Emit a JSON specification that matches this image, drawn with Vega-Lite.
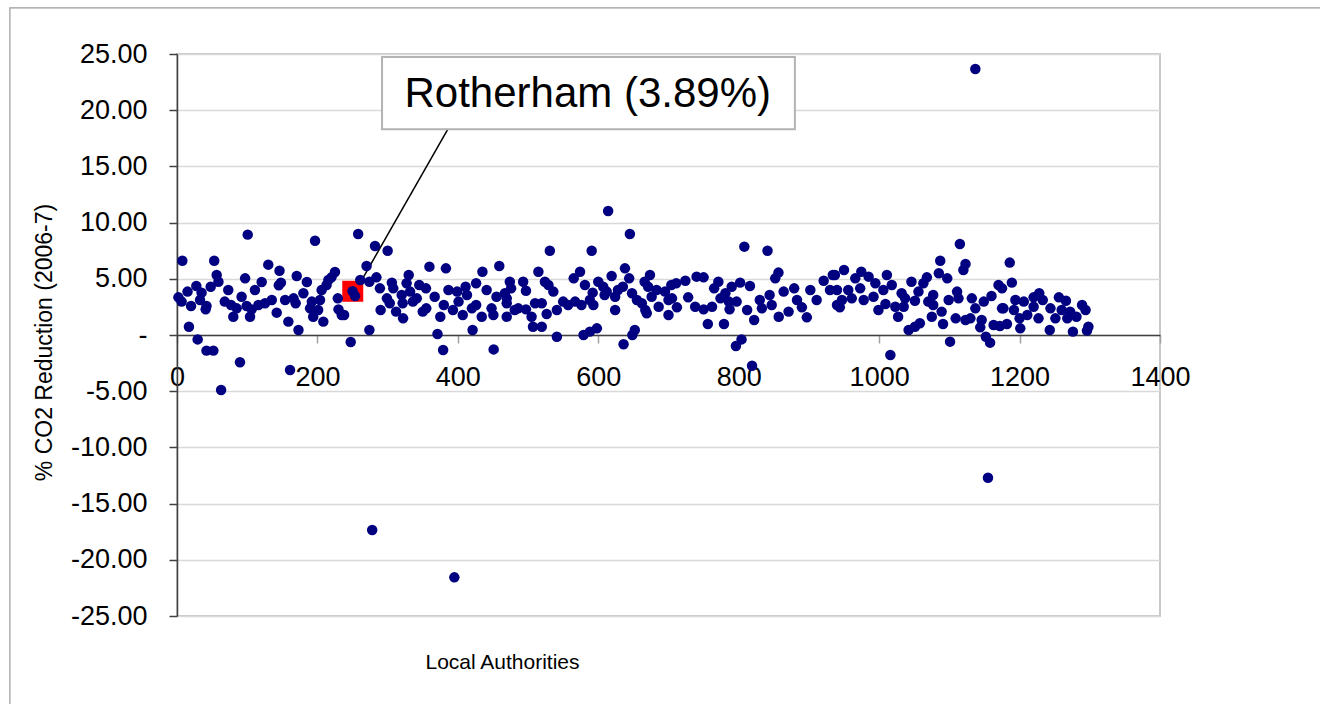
{
  "$schema": "https://vega.github.io/schema/vega-lite/v6.json",
  "autosize": {"type": "none"},
  "padding": {"left": 177, "top": 54, "right": 160, "bottom": 88},
  "width": 983,
  "height": 562,
  "background": "white",
  "config": {
    "view": {"stroke": "#c8c8c8", "strokeWidth": 2},
    "font": "Liberation Sans"
  },
  "data": {"values": [
    {"i":100.7,"v":8.93},{"i":196.6,"v":8.39},{"i":7.6,"v":6.61},{"i":53,"v":6.61},{"i":130,"v":6.26},{"i":146,"v":5.72},{"i":170.5,"v":5.25},{"i":225,"v":5.6},{"i":220,"v":5.13},{"i":56.5,"v":5.34},{"i":59,"v":4.74},{"i":97,"v":5.04},{"i":120.6,"v":4.72},{"i":185,"v":4.72},{"i":148,"v":4.66},{"i":145,"v":4.42},{"i":27.5,"v":4.36},{"i":48,"v":4.3},{"i":111,"v":4.0},{"i":73,"v":4.0},{"i":215.6,"v":4.89},{"i":213,"v":4.45},{"i":206,"v":4.0},{"i":15,"v":3.86},{"i":35,"v":3.77},{"i":2,"v":3.35},{"i":6.6,"v":2.97},{"i":20,"v":2.58},{"i":32.8,"v":3.11},{"i":42,"v":2.58},{"i":40.8,"v":2.28},{"i":68,"v":2.97},{"i":77,"v":2.67},{"i":85,"v":2.37},{"i":92,"v":3.41},{"i":99.2,"v":2.58},{"i":106.4,"v":2.28},{"i":104,"v":1.63},{"i":80.2,"v":1.63},{"i":116,"v":2.67},{"i":125.4,"v":2.82},{"i":135,"v":3.11},{"i":142,"v":1.99},{"i":154,"v":3.11},{"i":166,"v":3.26},{"i":169,"v":2.82},{"i":180,"v":3.71},{"i":192,"v":2.97},{"i":189.5,"v":2.37},{"i":194,"v":1.63},{"i":203.7,"v":3.11},{"i":201,"v":2.22},{"i":208.4,"v":1.19},{"i":158.6,"v":1.19},{"i":173,"v":0.44},{"i":229,"v":3.26},{"i":230,"v":2.28},{"i":234.6,"v":1.78},{"i":17,"v":0.74},{"i":29.4,"v":-0.39},{"i":42,"v":-1.39},{"i":51.8,"v":-1.39},
    {"i":258,"v":8.99},{"i":282,"v":7.92},{"i":300,"v":7.5},{"i":270,"v":6.14},{"i":359.5,"v":6.08},{"i":383,"v":5.93},{"i":459,"v":6.14},{"i":435,"v":5.63},{"i":330,"v":5.34},{"i":284,"v":5.13},{"i":261,"v":4.89},{"i":274,"v":4.74},{"i":306,"v":4.66},{"i":308,"v":4.15},{"i":250,"v":3.89},{"i":253.6,"v":3.47},{"i":289,"v":4.15},{"i":327,"v":4.6},{"i":345,"v":4.45},{"i":354.6,"v":4.15},{"i":332,"v":3.86},{"i":320,"v":3.56},{"i":299,"v":3.26},{"i":341.5,"v":3.26},{"i":367,"v":3.41},{"i":386.6,"v":4.0},{"i":399,"v":3.86},{"i":411,"v":4.3},{"i":413,"v":3.56},{"i":426,"v":4.6},{"i":441,"v":4.0},{"i":455,"v":3.41},{"i":467,"v":3.71},{"i":469.6,"v":2.82},{"i":303,"v":2.82},{"i":321.4,"v":2.82},{"i":336,"v":2.97},{"i":355,"v":2.37},{"i":350,"v":2.08},{"i":380,"v":2.67},{"i":375,"v":1.63},{"i":393,"v":2.22},{"i":401,"v":2.97},{"i":407,"v":1.78},{"i":420,"v":2.37},{"i":426,"v":2.67},{"i":434,"v":1.63},{"i":448,"v":2.37},{"i":450.6,"v":1.78},{"i":312,"v":2.08},{"i":322,"v":1.48},{"i":290,"v":2.22},{"i":238,"v":1.78},{"i":274,"v":0.44},{"i":371,"v":0.09},{"i":421,"v":0.44},{"i":247.4,"v":-0.62},{"i":379,"v":-1.33},{"i":451,"v":-1.28},{"i":469.6,"v":1.63},
    {"i":645,"v":8.99},{"i":531,"v":7.5},{"i":590.6,"v":7.5},{"i":514.7,"v":5.63},{"i":574,"v":5.63},{"i":565,"v":5.04},{"i":638,"v":5.93},{"i":644,"v":5.04},{"i":619,"v":5.25},{"i":673.6,"v":5.34},{"i":474,"v":4.74},{"i":493,"v":4.74},{"i":524,"v":4.74},{"i":529,"v":4.45},{"i":497,"v":3.94},{"i":475.8,"v":4.15},{"i":581,"v":4.45},{"i":600,"v":4.74},{"i":607,"v":4.3},{"i":612,"v":3.86},{"i":628,"v":4.0},{"i":635,"v":4.3},{"i":666,"v":4.74},{"i":671,"v":4.3},{"i":683,"v":4.0},{"i":695,"v":3.86},{"i":704,"v":4.45},{"i":536,"v":3.86},{"i":469.6,"v":3.26},{"i":592,"v":3.77},{"i":588,"v":3.11},{"i":593,"v":2.67},{"i":609,"v":3.56},{"i":624,"v":3.41},{"i":648,"v":3.71},{"i":655,"v":3.11},{"i":662,"v":2.82},{"i":667,"v":2.22},{"i":676,"v":3.41},{"i":686,"v":2.52},{"i":700,"v":3.11},{"i":700,"v":1.78},{"i":669,"v":1.93},{"i":624,"v":2.22},{"i":486,"v":2.37},{"i":481,"v":2.22},{"i":497,"v":2.28},{"i":510,"v":2.82},{"i":519.5,"v":2.82},{"i":505,"v":1.63},{"i":507,"v":0.74},{"i":519.5,"v":0.74},{"i":526.5,"v":1.87},{"i":541,"v":2.22},{"i":550,"v":2.97},{"i":557,"v":2.67},{"i":567,"v":2.97},{"i":576,"v":2.67},{"i":541,"v":-0.15},{"i":579,"v":0.0},{"i":588,"v":0.3},{"i":598,"v":0.59},{"i":652,"v":0.44},{"i":648.5,"v":0.0},{"i":636,"v":-0.83},
    {"i":808,"v":7.86},{"i":841,"v":7.5},{"i":856.6,"v":5.55},{"i":852,"v":5.04},{"i":711,"v":4.6},{"i":724,"v":4.83},{"i":740,"v":5.19},{"i":750,"v":5.13},{"i":771,"v":4.74},{"i":765,"v":4.15},{"i":802,"v":4.66},{"i":790,"v":4.3},{"i":816,"v":4.36},{"i":705,"v":3.26},{"i":728,"v":3.35},{"i":738,"v":2.52},{"i":712,"v":2.46},{"i":750,"v":2.28},{"i":762,"v":2.52},{"i":774,"v":3.26},{"i":781,"v":3.71},{"i":786,"v":2.97},{"i":797,"v":2.97},{"i":787,"v":2.28},{"i":812,"v":2.22},{"i":822,"v":1.33},{"i":830,"v":3.11},{"i":833,"v":2.37},{"i":844,"v":3.56},{"i":847,"v":2.67},{"i":857,"v":1.63},{"i":864,"v":3.86},{"i":871,"v":2.08},{"i":879,"v":4.15},{"i":883,"v":3.11},{"i":890,"v":2.46},{"i":897,"v":1.57},{"i":902,"v":4.0},{"i":911,"v":3.11},{"i":921,"v":4.83},{"i":934,"v":5.34},{"i":930,"v":4.0},{"i":940,"v":2.67},{"i":756,"v":0.98},{"i":779,"v":0.98},{"i":804,"v":-0.39},{"i":796,"v":-0.98},
    {"i":1115,"v":8.1},{"i":1087,"v":6.61},{"i":1123,"v":6.32},{"i":1120,"v":5.78},{"i":950,"v":5.78},{"i":974.6,"v":5.63},{"i":1011,"v":5.34},{"i":937,"v":5.34},{"i":1085,"v":5.49},{"i":1097,"v":5.04},{"i":966,"v":5.04},{"i":985,"v":5.19},{"i":994.6,"v":4.6},{"i":1018,"v":4.45},{"i":1068,"v":5.13},{"i":1063,"v":4.6},{"i":1046,"v":4.74},{"i":1170,"v":4.45},{"i":940,"v":4.0},{"i":956,"v":4.0},{"i":973,"v":4.15},{"i":1006,"v":4.0},{"i":1032,"v":3.71},{"i":1056,"v":3.86},{"i":1111,"v":3.86},{"i":1160,"v":3.47},{"i":947,"v":3.11},{"i":961,"v":3.26},{"i":978,"v":3.11},{"i":992,"v":3.41},{"i":1037,"v":3.26},{"i":1051,"v":3.05},{"i":1077,"v":3.56},{"i":1099,"v":3.11},{"i":1132,"v":3.26},{"i":1149,"v":2.97},{"i":944,"v":2.46},{"i":999,"v":2.22},{"i":1009,"v":2.76},{"i":1023,"v":2.52},{"i":1035,"v":2.52},{"i":1070,"v":2.97},{"i":1077,"v":2.67},{"i":1089,"v":2.08},{"i":1113,"v":3.26},{"i":1137,"v":2.37},{"i":1175,"v":2.37},{"i":1027,"v":1.63},{"i":1075,"v":1.63},{"i":1109,"v":1.48},{"i":1123,"v":1.33},{"i":1130,"v":1.48},{"i":1146,"v":1.33},{"i":1163,"v":0.89},{"i":1144,"v":0.68},{"i":1091,"v":0.98},{"i":1058,"v":1.04},{"i":1051,"v":0.74},{"i":1042,"v":0.44},{"i":1101,"v":-0.59},{"i":1152,"v":-0.15},{"i":1158,"v":-0.68},{"i":1016,"v":-1.78},
    {"i":1186,"v":6.44},{"i":1189,"v":4.66},{"i":1175,"v":4.15},{"i":1194,"v":3.11},{"i":1206,"v":2.97},{"i":1220,"v":3.35},{"i":1228,"v":3.71},{"i":1233,"v":3.11},{"i":1256,"v":3.35},{"i":1266,"v":3.05},{"i":1289,"v":2.67},{"i":1177,"v":2.37},{"i":1192,"v":2.22},{"i":1220,"v":2.52},{"i":1244,"v":2.37},{"i":1260,"v":2.22},{"i":1272,"v":2.08},{"i":1281,"v":1.63},{"i":1294,"v":2.22},{"i":1200,"v":1.48},{"i":1211,"v":1.78},{"i":1227,"v":1.48},{"i":1251,"v":1.48},{"i":1268,"v":1.48},{"i":1182,"v":0.98},{"i":1172,"v":0.8},{"i":1201,"v":0.59},{"i":1243,"v":0.44},{"i":1276,"v":0.3},{"i":1298,"v":0.74},{"i":1296,"v":0.39},
    {"i":1137,"v":23.67},{"i":614,"v":11.03},{"i":62.8,"v":-4.89},{"i":89.7,"v":-2.43},{"i":161,"v":-3.11},{"i":278,"v":-17.35},{"i":395,"v":-21.56},{"i":819,"v":-2.73},{"i":1155,"v":-12.7}
  ]},
  "layer": [
    {
      "data": {"values": [{}]},
      "mark": {"type": "rect", "fill": null, "stroke": "#9a9a9a", "strokeWidth": 1.2},
      "encoding": {
        "x": {"datum": -238, "type": "quantitative"},
        "x2": {"datum": 1650},
        "y": {"datum": 29.1, "type": "quantitative"},
        "y2": {"datum": -40}
      }
    },
    {
      "data": {"values": [{}]},
      "mark": {"type": "rule", "color": "black", "strokeWidth": 1.5},
      "encoding": {
        "x": {"datum": 255, "type": "quantitative"},
        "x2": {"datum": 386},
        "y": {"datum": 4.0, "type": "quantitative"},
        "y2": {"datum": 18.33}
      }
    },
    {
      "data": {"values": [{}]},
      "mark": {"type": "rect", "fill": "white", "stroke": "#b3b3b3", "strokeWidth": 2},
      "encoding": {
        "x": {"datum": 292, "type": "quantitative"},
        "x2": {"datum": 880},
        "y": {"datum": 24.73, "type": "quantitative"},
        "y2": {"datum": 18.3}
      }
    },
    {
      "data": {"values": [{}]},
      "mark": {"type": "text", "text": "Rotherham (3.89%)", "font": "Liberation Sans", "fontSize": 42, "fill": "black", "align": "center", "baseline": "alphabetic"},
      "encoding": {
        "x": {"datum": 585, "type": "quantitative"},
        "y": {"datum": 20.28, "type": "quantitative"}
      }
    },
    {
      "data": {"values": [{}]},
      "mark": {"type": "square", "color": "#ff0000", "opacity": 1, "size": 441, "filled": true},
      "encoding": {
        "x": {"datum": 250.3, "type": "quantitative"},
        "y": {"datum": 3.89, "type": "quantitative"}
      }
    },
    {
      "mark": {"type": "circle", "color": "#000080", "opacity": 1, "size": 110},
      "encoding": {
        "x": {
          "field": "i", "type": "quantitative",
          "scale": {"domain": [0, 1400], "nice": false, "zero": false},
          "axis": {
            "title": "Local Authorities",
            "values": [0, 200, 400, 600, 800, 1000, 1200, 1400],
            "format": "d",
            "offset": -281,
            "grid": false,
            "domainColor": "#404040",
            "domainWidth": 1.5,
            "tickColor": "#a0a0a0",
            "tickSize": 8,
            "tickWidth": 1.5,
            "labelFont": "Liberation Sans",
            "labelFontSize": 27,
            "labelColor": "black",
            "labelPadding": 21,
            "labelFlush": false,
            "labelOverlap": false,
            "titleFont": "Liberation Sans",
            "titleFontSize": 21,
            "titleFontWeight": "normal",
            "titleColor": "black",
            "titleX": 325,
            "titleY": 327,
            "titleAlign": "center",
            "titleBaseline": "middle"
          }
        },
        "y": {
          "field": "v", "type": "quantitative",
          "scale": {"domain": [-25, 25], "nice": false, "zero": false},
          "axis": {
            "title": "% CO2 Reduction (2006-7)",
            "values": [-25, -20, -15, -10, -5, 0, 5, 10, 15, 20, 25],
            "labelExpr": "datum.value == 0 ? '-\u00a0\u00a0\u00a0\u00a0' : replace(format(datum.value, '.2f'), '\u2212', '-')",
            "grid": true,
            "gridColor": "#d9d9d9",
            "gridWidth": 1.5,
            "domainColor": "#404040",
            "domainWidth": 1.5,
            "tickColor": "#404040",
            "tickSize": 8,
            "tickWidth": 1.5,
            "labelFont": "Liberation Sans",
            "labelFontSize": 27,
            "labelColor": "black",
            "labelPadding": 22,
            "labelFlush": false,
            "labelOverlap": false,
            "titleFont": "Liberation Sans",
            "titleFontSize": 23,
            "titleFontWeight": "normal",
            "titleColor": "black",
            "titleX": -133,
            "titleY": 288,
            "titleAngle": -90,
            "titleAlign": "center",
            "titleBaseline": "middle"
          }
        }
      }
    }
  ]
}
